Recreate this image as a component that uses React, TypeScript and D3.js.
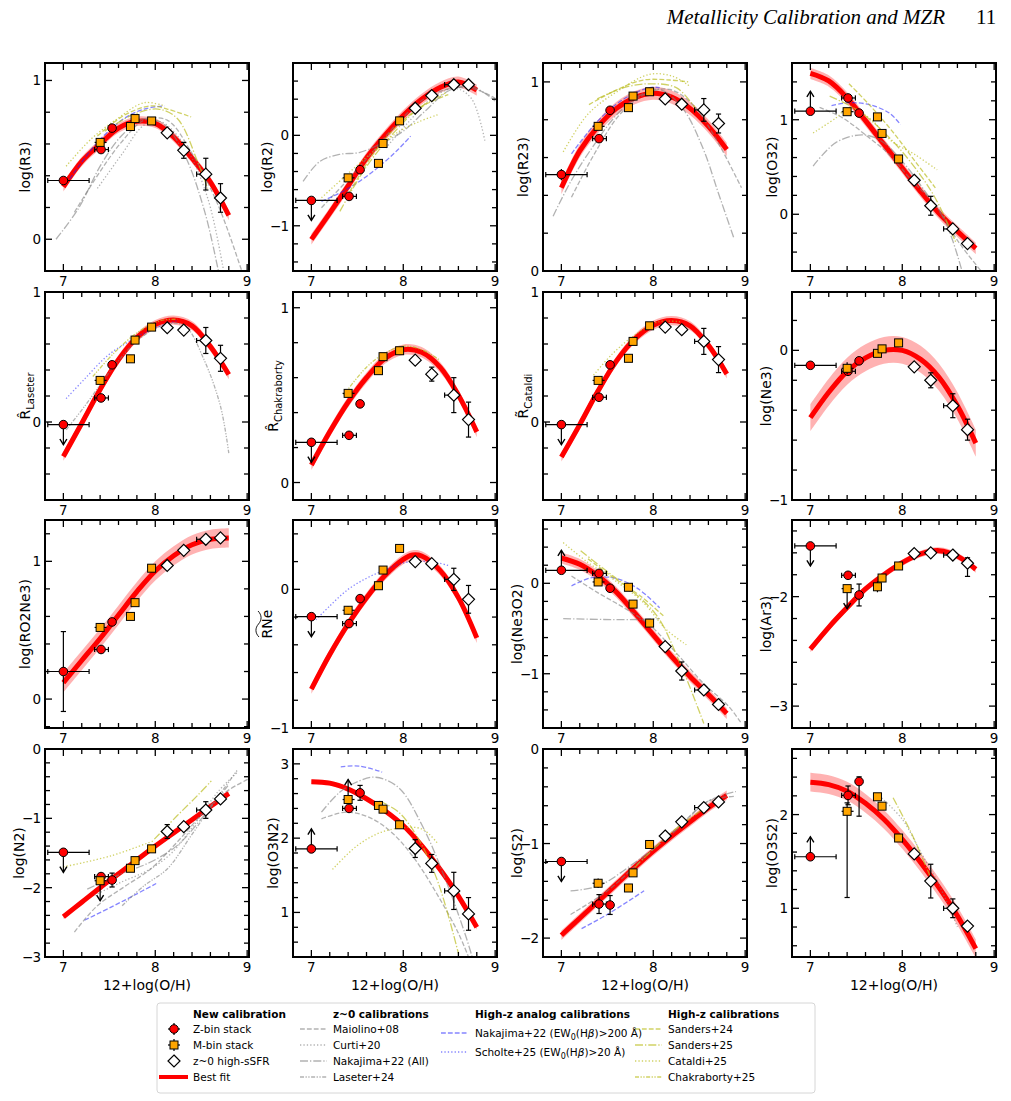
import * as d3 from 'd3';

// 12+log(O/H) of the stacks and their x-errors [minus, plus]
const OH_ZBIN = [7.0, 7.41, 7.53];
const OH_ZBIN_ERR = [[0.17, 0.28], [0.07, 0.08], [0.02, 0.02]];
const OH_MBIN = [7.40, 7.73, 7.78, 7.96];
const OH_MBIN_ERR = [[0.06, 0.07], [0.01, 0.01], [0.01, 0.01], [0.01, 0.01]];
const OH_LOCAL = [8.13, 8.31, 8.55, 8.71];
const OH_LOCAL_ERR = [[0.02, 0.02], [0.05, 0.03], [0.1, 0.04], [0.02, 0.02]];

const X_DOMAIN = [6.8, 9.02];
const X_TICKS = [7, 8, 9];

const Y_LABELS = [
  'log(R3)', 'log(R2)', 'log(R23)', 'log(O32)',
  ['R\u0302', 'Laseter'], ['R\u0302', 'Chakraborty'], ['R\u0303', 'Cataldi'], 'log(Ne3)',
  'log(RO2Ne3)', 'RNe', 'log(Ne3O2)', 'log(Ar3)',
  'log(N2)', 'log(O3N2)', 'log(S2)', 'log(O3S2)',
];
const Y_DOMAINS = [
  [-0.2, 1.11], [-1.5, 0.8], [0, 1.1], [-0.6, 1.6],
  [-0.6, 1.0], [-0.1, 1.09], [-0.6, 1.0], [-1.0, 0.39],
  [-0.21, 1.3], [-1.0, 0.5], [-1.6, 0.7], [-3.2, -1.3],
  [-3.0, 0.0], [0.4, 3.2], [-2.2, 0.0], [0.48, 2.7],
];
// limit flag on the lowest-metallicity Z-bin / M-bin points
const Z_LIMITS = ['', 'down', '', 'up', 'down', 'down', 'down', '', '', 'down', 'up', 'down', 'down', 'up', 'down', 'up'];
const M_LIMITS = ['', '', '', '', '', '', '', '', '', '', '', 'down', 'down', 'up', '', ''];
// half-width of the best-fit uncertainty band
const FIT_BAND = [0.03, 0.06, 0.035, 0.06, 0.035, 0.03, 0.035, 0.09, 0.07, 0.035, 0.06, 0.03, 0.03, 0.03, 0.05, 0.1];

// [y, yerr-, yerr+]
const R3_Z = [[0.37, 0.01, 0.01], [0.565, 0.02, 0.02], [0.70, 0.02, 0.02]];
const R3_M = [[0.61, 0.02, 0.02], [0.71, 0.01, 0.01], [0.76, 0.01, 0.01], [0.745, 0.01, 0.01]];
const R3_L = [[0.67, 0.02, 0.02], [0.56, 0.05, 0.05], [0.41, 0.1, 0.1], [0.26, 0.09, 0.09]];
const R3_FIT = [[7.0, 0.33], [7.2, 0.49], [7.4, 0.60], [7.6, 0.70], [7.8, 0.743], [8.0, 0.73], [8.2, 0.644], [8.4, 0.51], [8.6, 0.36], [8.8, 0.15]];
const R3_CAL = [
  ['nak22', [[6.92, 0.0], [7.16, 0.19], [7.41, 0.47], [7.63, 0.65], [7.88, 0.76], [8.1, 0.72], [8.32, 0.53], [8.53, 0.19], [8.68, -0.18], [8.72, -0.3]]],
  ['mai08', [[7.12, 0.17], [7.37, 0.4], [7.63, 0.61], [7.88, 0.75], [8.13, 0.75], [8.39, 0.55], [8.68, 0.22], [8.93, -0.18], [8.97, -0.25]]],
  ['cur20', [[7.37, 0.32], [7.63, 0.53], [7.88, 0.72], [8.06, 0.74], [8.32, 0.59], [8.57, 0.26], [8.75, -0.22]]],
  ['nak22ew', [[7.07, 0.38], [7.37, 0.61], [7.66, 0.76], [7.88, 0.82], [8.1, 0.84]]],
  ['cat25', [[7.03, 0.46], [7.3, 0.63], [7.59, 0.76], [7.88, 0.86], [8.1, 0.84]]],
  ['san24', [[7.37, 0.65], [7.66, 0.78], [7.95, 0.84], [8.13, 0.82], [8.39, 0.77]]],
  ['san25', [[7.45, 0.68], [7.74, 0.78], [8.03, 0.82], [8.24, 0.76], [8.46, 0.49], [8.57, 0.32]]],
];

const R2_Z = [[-0.72, 0.02, 0.02], [-0.675, 0.04, 0.04], [-0.38, 0.02, 0.02]];
const R2_M = [[-0.47, 0.03, 0.03], [-0.31, 0.01, 0.01], [-0.09, 0.01, 0.01], [0.16, 0.01, 0.01]];
const R2_L = [[0.30, 0.01, 0.01], [0.44, 0.02, 0.02], [0.56, 0.04, 0.04], [0.56, 0.02, 0.02]];
const R2_FIT = [[7.0, -1.15], [7.2, -0.86], [7.4, -0.56], [7.6, -0.25], [7.8, 0.0], [8.0, 0.22], [8.2, 0.40], [8.4, 0.53], [8.6, 0.59], [8.8, 0.50]];
const R2_CAL = [
  ['nak22', [[6.91, -0.51], [7.09, -0.29], [7.31, -0.21], [7.52, -0.19], [7.74, -0.10], [7.99, 0.04], [8.24, 0.27], [8.49, 0.49], [8.74, 0.54], [9.0, 0.38]]],
  ['mai08', [[7.11, -0.8], [7.38, -0.51], [7.67, -0.18], [7.95, 0.15], [8.24, 0.41], [8.53, 0.52], [8.78, 0.51], [9.0, 0.41]]],
  ['cur20', [[7.81, -0.14], [8.06, 0.15], [8.31, 0.41], [8.56, 0.52], [8.74, 0.41], [8.89, -0.07]]],
  ['nak22ew', [[7.11, -0.73], [7.38, -0.6], [7.67, -0.4], [7.92, -0.18], [8.08, -0.01]]],
  ['cat25', [[7.11, -0.69], [7.38, -0.44], [7.67, -0.18], [7.95, 0.04], [8.17, 0.15], [8.38, 0.23]]],
  ['san24', [[7.38, -0.69], [7.67, -0.21], [7.95, 0.12], [8.24, 0.34], [8.49, 0.45]]],
  ['san25', [[7.31, -0.84], [7.59, -0.36], [7.88, 0.01], [8.17, 0.3], [8.46, 0.47]]],
];

const R23_Z = [[0.51, 0.03, 0.03], [0.70, 0.02, 0.02], [0.85, 0.01, 0.01]];
const R23_M = [[0.765, 0.02, 0.02], [0.864, 0.01, 0.01], [0.925, 0.01, 0.01], [0.948, 0.01, 0.01]];
const R23_L = [[0.91, 0.01, 0.01], [0.882, 0.03, 0.03], [0.852, 0.06, 0.06], [0.78, 0.05, 0.05]];
const R23_FIT = [[7.0, 0.44], [7.2, 0.635], [7.4, 0.765], [7.6, 0.86], [7.8, 0.917], [8.0, 0.94], [8.2, 0.92], [8.4, 0.86], [8.6, 0.765], [8.8, 0.643]];
const R23_CAL = [
  ['nak22', [[6.91, 0.29], [7.11, 0.48], [7.36, 0.67], [7.61, 0.83], [7.86, 0.93], [8.07, 0.96], [8.32, 0.86], [8.54, 0.65], [8.71, 0.41], [8.88, 0.17]]],
  ['mai08', [[7.11, 0.39], [7.36, 0.62], [7.64, 0.83], [7.93, 0.94], [8.18, 0.96], [8.43, 0.88], [8.68, 0.70], [8.96, 0.44]]],
  ['nak22ew', [[7.11, 0.62], [7.39, 0.79], [7.68, 0.91], [7.96, 0.97], [8.07, 0.97]]],
  ['cat25', [[7.02, 0.63], [7.29, 0.83], [7.61, 0.95], [7.96, 1.04], [8.21, 1.03], [8.39, 0.98]]],
  ['san24', [[7.3, 0.88], [7.61, 0.96], [7.89, 1.01], [8.18, 1.01], [8.38, 1.0]]],
  ['san25', [[7.39, 0.91], [7.68, 0.97], [7.96, 0.99], [8.25, 0.97], [8.46, 0.86]]],
];

const O32_Z = [[1.09, 0.01, 0.01], [1.23, 0.03, 0.03], [1.07, 0.02, 0.02]];
const O32_M = [[1.085, 0.02, 0.02], [1.03, 0.01, 0.01], [0.855, 0.01, 0.01], [0.585, 0.01, 0.01]];
const O32_L = [[0.36, 0.02, 0.02], [0.09, 0.1, 0.1], [-0.155, 0.04, 0.04], [-0.31, 0.03, 0.03]];
const O32_FIT = [[7.0, 1.49], [7.2, 1.41], [7.4, 1.23], [7.6, 0.99], [7.8, 0.74], [8.0, 0.49], [8.2, 0.24], [8.4, 0.01], [8.6, -0.18], [8.8, -0.36]];
const O32_CAL = [
  ['nak22ew', [[7.23, 1.15], [7.42, 1.18], [7.64, 1.16], [7.86, 1.07], [7.98, 0.95]]],
  ['mai08', [[7.1, 1.13], [7.35, 1.02], [7.6, 0.84], [7.86, 0.63], [8.11, 0.35], [8.36, 0.1], [8.61, -0.29], [8.9, -0.65]]],
  ['nak22', [[7.03, 0.51], [7.28, 0.76], [7.57, 0.84], [7.78, 0.77], [8.0, 0.56], [8.25, 0.24], [8.47, -0.08], [8.65, -0.6]]],
  ['cat25', [[7.03, 0.86], [7.28, 1.02], [7.42, 1.13], [7.64, 1.02], [7.89, 0.77], [8.14, 0.63], [8.38, 0.47]]],
  ['san24', [[7.42, 1.38], [7.64, 1.16], [7.89, 0.88], [8.14, 0.56], [8.36, 0.28]]],
  ['san25', [[7.21, 1.25], [7.53, 1.09], [7.86, 0.81], [8.14, 0.49], [8.36, 0.17], [8.58, -0.29]]],
];

const LAS_Z = [[-0.02, 0.01, 0.01], [0.185, 0.02, 0.02], [0.44, 0.02, 0.02]];
const LAS_M = [[0.32, 0.02, 0.02], [0.486, 0.01, 0.01], [0.63, 0.01, 0.01], [0.73, 0.01, 0.01]];
const LAS_L = [[0.725, 0.01, 0.01], [0.707, 0.02, 0.02], [0.627, 0.1, 0.1], [0.49, 0.1, 0.1]];
const LAS_FIT = [[7.0, -0.265], [7.2, -0.01], [7.4, 0.25], [7.6, 0.48], [7.8, 0.65], [8.0, 0.75], [8.2, 0.784], [8.4, 0.74], [8.6, 0.58], [8.8, 0.365]];
const LAS_CAL = [
  ['sch25', [[7.03, 0.18], [7.23, 0.33], [7.48, 0.51], [7.74, 0.63], [7.99, 0.72], [8.24, 0.78]]],
  ['cha25', [[7.32, 0.35], [7.55, 0.53], [7.81, 0.69], [8.06, 0.78], [8.24, 0.79]]],
  ['las24', [[7.03, -0.06], [7.23, 0.12], [7.52, 0.4], [7.81, 0.63], [8.1, 0.75], [8.32, 0.74], [8.53, 0.48], [8.71, 0.12], [8.8, -0.24]]],
];

const CHA_Z = [[0.23, 0.01, 0.01], [0.27, 0.02, 0.02], [0.45, 0.02, 0.02]];
const CHA_M = [[0.51, 0.02, 0.02], [0.64, 0.01, 0.01], [0.72, 0.01, 0.01], [0.754, 0.01, 0.01]];
const CHA_L = [[0.70, 0.02, 0.02], [0.62, 0.04, 0.04], [0.50, 0.1, 0.1], [0.36, 0.1, 0.1]];
const CHA_FIT = [[7.0, 0.10], [7.2, 0.29], [7.4, 0.46], [7.6, 0.60], [7.8, 0.71], [8.0, 0.76], [8.2, 0.745], [8.4, 0.66], [8.6, 0.50], [8.8, 0.29]];
const CHA_CAL = [
  ['cha25', [[7.35, 0.5], [7.6, 0.66], [7.8, 0.74], [8.0, 0.78], [8.2, 0.76], [8.4, 0.70]]],
];

const CAT_Z = [[-0.02, 0.01, 0.01], [0.19, 0.02, 0.02], [0.44, 0.02, 0.02]];
const CAT_M = [[0.32, 0.02, 0.02], [0.49, 0.01, 0.01], [0.62, 0.01, 0.01], [0.74, 0.01, 0.01]];
const CAT_L = [[0.73, 0.01, 0.01], [0.71, 0.02, 0.02], [0.62, 0.1, 0.1], [0.48, 0.1, 0.1]];
const CAT_FIT = [[7.0, -0.27], [7.2, -0.02], [7.4, 0.24], [7.6, 0.47], [7.8, 0.64], [8.0, 0.745], [8.2, 0.78], [8.4, 0.74], [8.6, 0.59], [8.8, 0.37]];
const CAT_CAL = [
  ['cat25', [[7.35, 0.36], [7.55, 0.52], [7.8, 0.67], [8.05, 0.77], [8.3, 0.77]]],
];

const NE3_Z = [[-0.10, 0.01, 0.01], [-0.14, 0.03, 0.03], [-0.07, 0.02, 0.02]];
const NE3_M = [[-0.12, 0.04, 0.04], [-0.02, 0.01, 0.01], [0.01, 0.01, 0.01], [0.05, 0.01, 0.01]];
const NE3_L = [[-0.11, 0.02, 0.02], [-0.2, 0.05, 0.05], [-0.37, 0.08, 0.08], [-0.53, 0.07, 0.07]];
const NE3_FIT = [[7.0, -0.45], [7.2, -0.28], [7.4, -0.14], [7.6, -0.05], [7.8, 0.0], [8.0, 0.0], [8.2, -0.06], [8.4, -0.18], [8.6, -0.37], [8.8, -0.62]];

const RO2NE3_Z = [[0.2, 0.29, 0.29], [0.36, 0.03, 0.03], [0.56, 0.02, 0.02]];
const RO2NE3_M = [[0.52, 0.03, 0.03], [0.60, 0.01, 0.01], [0.70, 0.01, 0.01], [0.95, 0.01, 0.01]];
const RO2NE3_L = [[0.97, 0.01, 0.01], [1.08, 0.02, 0.02], [1.16, 0.04, 0.04], [1.17, 0.02, 0.02]];
const RO2NE3_FIT = [[7.0, 0.12], [7.2, 0.28], [7.4, 0.44], [7.6, 0.61], [7.8, 0.78], [8.0, 0.93], [8.2, 1.04], [8.4, 1.12], [8.6, 1.16], [8.8, 1.17]];

const RNE_Z = [[-0.197, 0.01, 0.01], [-0.247, 0.03, 0.03], [-0.067, 0.02, 0.02]];
const RNE_M = [[-0.151, 0.03, 0.03], [0.026, 0.01, 0.01], [0.139, 0.01, 0.01], [0.295, 0.01, 0.01]];
const RNE_L = [[0.2, 0.01, 0.01], [0.185, 0.03, 0.03], [0.072, 0.08, 0.08], [-0.072, 0.1, 0.1]];
const RNE_FIT = [[7.0, -0.72], [7.2, -0.47], [7.4, -0.25], [7.6, -0.06], [7.8, 0.10], [8.0, 0.216], [8.1, 0.247], [8.2, 0.24], [8.4, 0.137], [8.6, -0.06], [8.8, -0.35]];
const RNE_CAL = [
  ['sch25', [[7.05, -0.22], [7.2, -0.12], [7.4, 0.0], [7.6, 0.08], [7.8, 0.14], [8.0, 0.19], [8.3, 0.2], [8.5, 0.17]]],
];

const NE3O2_Z = [[0.144, 0.01, 0.01], [0.11, 0.03, 0.03], [-0.055, 0.02, 0.02]];
const NE3O2_M = [[0.015, 0.03, 0.03], [-0.044, 0.01, 0.01], [-0.23, 0.01, 0.01], [-0.44, 0.01, 0.01]];
const NE3O2_L = [[-0.70, 0.01, 0.01], [-0.97, 0.1, 0.1], [-1.18, 0.04, 0.04], [-1.34, 0.02, 0.02]];
const NE3O2_FIT = [[7.0, 0.28], [7.2, 0.21], [7.4, 0.08], [7.6, -0.10], [7.8, -0.33], [8.0, -0.57], [8.2, -0.81], [8.4, -1.03], [8.6, -1.23], [8.8, -1.44]];
const NE3O2_CAL = [
  ['nak22ew', [[7.11, -0.03], [7.32, 0.06], [7.57, 0.06], [7.82, -0.05], [8.07, -0.27]]],
  ['mai08', [[7.11, 0.08], [7.39, -0.1], [7.68, -0.27], [7.96, -0.46], [8.25, -0.77], [8.54, -1.1], [8.82, -1.36], [8.96, -1.55]]],
  ['nak22', [[7.02, -0.39], [7.46, -0.4], [7.82, -0.4], [8.07, -0.39]]],
  ['cat25', [[7.02, 0.45], [7.29, 0.23], [7.57, 0.04], [7.89, -0.21], [8.14, -0.51], [8.36, -0.68]]],
  ['san25', [[7.21, 0.36], [7.46, 0.16], [7.75, -0.07], [8.04, -0.36], [8.29, -0.88], [8.55, -1.55]]],
  ['san24', [[7.29, 0.27], [7.57, 0.06], [7.86, -0.14], [8.11, -0.36]]],
];

const AR3_Z = [[-1.537, 0.01, 0.01], [-1.805, 0.03, 0.03], [-1.985, 0.1, 0.1]];
const AR3_M = [[-1.927, 0.03, 0.03], [-1.91, 0.05, 0.05], [-1.83, 0.02, 0.02], [-1.72, 0.02, 0.02]];
const AR3_L = [[-1.607, 0.01, 0.01], [-1.60, 0.01, 0.01], [-1.62, 0.03, 0.03], [-1.695, 0.12, 0.05]];
const AR3_FIT = [[7.0, -2.48], [7.2, -2.28], [7.4, -2.10], [7.6, -1.93], [7.8, -1.80], [8.0, -1.69], [8.2, -1.61], [8.4, -1.58], [8.6, -1.63], [8.8, -1.75]];

const N2_Z = [[-1.49, 0.01, 0.01], [-1.84, 0.05, 0.05], [-1.89, 0.1, 0.1]];
const N2_M = [[-1.90, 0.05, 0.05], [-1.72, 0.02, 0.02], [-1.61, 0.02, 0.02], [-1.44, 0.02, 0.02]];
const N2_L = [[-1.19, 0.1, 0.1], [-1.12, 0.03, 0.03], [-0.88, 0.12, 0.12], [-0.72, 0.07, 0.07]];
const N2_FIT = [[7.0, -2.42], [7.2, -2.21], [7.4, -2.0], [7.6, -1.80], [7.8, -1.60], [8.0, -1.40], [8.2, -1.21], [8.4, -1.02], [8.6, -0.83], [8.8, -0.64]];
const N2_CAL = [
  ['cat25', [[7.0, -1.70], [7.52, -1.54], [7.99, -1.32]]],
  ['san25', [[7.99, -1.30], [8.24, -0.96], [8.46, -0.67], [8.61, -0.46]]],
  ['nak22ew', [[7.23, -2.47], [7.52, -2.28], [7.77, -2.11], [8.01, -1.94]]],
  ['mai08', [[7.12, -2.64], [7.37, -2.26], [7.66, -1.99], [7.95, -1.73], [8.24, -1.34], [8.53, -0.91], [8.79, -0.6], [9.02, -0.43]]],
  ['cur20', [[7.34, -2.11], [7.63, -1.92], [7.92, -1.75], [8.17, -1.51], [8.42, -1.1], [8.68, -0.62], [8.89, -0.34]]],
  ['nak22', [[7.26, -2.02], [7.63, -1.8], [7.95, -1.63], [8.24, -1.39], [8.53, -0.96], [8.79, -0.53]]],
  ['las24', [[7.64, -2.26], [7.88, -1.97], [8.13, -1.73], [8.39, -1.25], [8.64, -0.77], [8.89, -0.31]]],
];

const O3N2_Z = [[1.855, 0.01, 0.01], [2.40, 0.04, 0.04], [2.61, 0.1, 0.1]];
const O3N2_M = [[2.52, 0.04, 0.04], [2.44, 0.02, 0.02], [2.39, 0.02, 0.02], [2.18, 0.02, 0.02]];
const O3N2_L = [[1.86, 0.12, 0.12], [1.66, 0.12, 0.12], [1.29, 0.25, 0.25], [0.98, 0.22, 0.22]];
const O3N2_FIT = [[7.0, 2.76], [7.2, 2.74], [7.4, 2.66], [7.6, 2.53], [7.8, 2.37], [8.0, 2.17], [8.2, 1.90], [8.4, 1.58], [8.6, 1.22], [8.8, 0.80]];
const O3N2_CAL = [
  ['nak22ew', [[7.32, 2.96], [7.52, 2.97], [7.77, 2.89]]],
  ['nak22', [[7.11, 2.35], [7.31, 2.62], [7.52, 2.77], [7.7, 2.82], [7.95, 2.68], [8.21, 2.16], [8.46, 1.44], [8.67, 0.72], [8.75, 0.4]]],
  ['mai08', [[7.11, 2.26], [7.38, 2.35], [7.63, 2.28], [7.88, 2.07], [8.13, 1.71], [8.38, 1.22], [8.6, 0.72], [8.71, 0.4]]],
  ['cat25', [[7.23, 1.58], [7.49, 1.89], [7.74, 2.07], [7.99, 2.14], [8.21, 2.12], [8.38, 1.92]]],
  ['san25', [[7.74, 2.5], [7.95, 2.35], [8.17, 1.98], [8.38, 1.40], [8.6, 0.45]]],
];

const S2_Z = [[-1.19, 0.01, 0.01], [-1.64, 0.1, 0.1], [-1.65, 0.1, 0.1]];
const S2_M = [[-1.42, 0.05, 0.05], [-1.47, 0.03, 0.03], [-1.31, 0.02, 0.02], [-1.01, 0.02, 0.02]];
const S2_L = [[-0.92, 0.03, 0.03], [-0.77, 0.05, 0.05], [-0.62, 0.05, 0.05], [-0.56, 0.03, 0.03]];
const S2_FIT = [[7.0, -1.97], [7.2, -1.79], [7.4, -1.61], [7.6, -1.43], [7.8, -1.25], [8.0, -1.08], [8.2, -0.92], [8.4, -0.77], [8.6, -0.62], [8.8, -0.49]];
const S2_CAL = [
  ['nak22ew', [[7.22, -1.9], [7.5, -1.75], [7.9, -1.5]]],
  ['mai08', [[7.1, -1.75], [7.5, -1.5], [7.9, -1.15], [8.3, -0.8], [8.6, -0.55], [8.9, -0.5]]],
  ['nak22', [[7.1, -1.5], [7.4, -1.45], [7.8, -1.2], [8.2, -0.9], [8.6, -0.55], [8.9, -0.45]]],
  ['san25', [[7.8, -1.25], [8.2, -0.88], [8.6, -0.6]]],
];

const O3S2_Z = [[1.55, 0.01, 0.01], [2.205, 0.1, 0.1], [2.353, 0.37, 0.05]];
const O3S2_M = [[2.035, 0.92, 0.09], [2.19, 0.01, 0.01], [2.09, 0.01, 0.01], [1.75, 0.01, 0.01]];
const O3S2_L = [[1.58, 0.06, 0.06], [1.29, 0.18, 0.18], [1.0, 0.1, 0.1], [0.81, 0.05, 0.05]];
const O3S2_FIT = [[7.0, 2.346], [7.2, 2.32], [7.4, 2.25], [7.6, 2.12], [7.8, 1.95], [8.0, 1.735], [8.2, 1.49], [8.4, 1.22], [8.6, 0.92], [8.8, 0.57]];
const O3S2_CAL = [
  ['cur20', [[7.75, 2.2], [8.0, 1.95], [8.2, 1.6], [8.4, 1.25], [8.6, 0.8]]],
  ['san25', [[7.9, 2.18], [8.1, 1.8], [8.3, 1.35]]],
];

const PANELS = [
  [R3_Z, R3_M, R3_L, R3_FIT, R3_CAL],
  [R2_Z, R2_M, R2_L, R2_FIT, R2_CAL],
  [R23_Z, R23_M, R23_L, R23_FIT, R23_CAL],
  [O32_Z, O32_M, O32_L, O32_FIT, O32_CAL],
  [LAS_Z, LAS_M, LAS_L, LAS_FIT, LAS_CAL],
  [CHA_Z, CHA_M, CHA_L, CHA_FIT, CHA_CAL],
  [CAT_Z, CAT_M, CAT_L, CAT_FIT, CAT_CAL],
  [NE3_Z, NE3_M, NE3_L, NE3_FIT, []],
  [RO2NE3_Z, RO2NE3_M, RO2NE3_L, RO2NE3_FIT, []],
  [RNE_Z, RNE_M, RNE_L, RNE_FIT, RNE_CAL],
  [NE3O2_Z, NE3O2_M, NE3O2_L, NE3O2_FIT, NE3O2_CAL],
  [AR3_Z, AR3_M, AR3_L, AR3_FIT, []],
  [N2_Z, N2_M, N2_L, N2_FIT, N2_CAL],
  [O3N2_Z, O3N2_M, O3N2_L, O3N2_FIT, O3N2_CAL],
  [S2_Z, S2_M, S2_L, S2_FIT, S2_CAL],
  [O3S2_Z, O3S2_M, O3S2_L, O3S2_FIT, O3S2_CAL],
];

const GREY = '#7f7f7f', BLUE = '#2020ff', OLIVE = '#bcbd22';
const CAL_STYLE = {
  mai08: { color: GREY, dash: '4.8,2.1', op: 0.6, label: 'Maiolino+08' },
  cur20: { color: GREY, dash: '1.3,2.1', op: 0.6, label: 'Curti+20' },
  nak22: { color: GREY, dash: '8,2,1.3,2', op: 0.6, label: 'Nakajima+22 (All)' },
  las24: { color: GREY, dash: '4,1.5,1.3,1.5,1.3,1.5', op: 0.6, label: 'Laseter+24' },
  nak22ew: { color: BLUE, dash: '4.8,2.1', op: 0.55 },
  sch25: { color: BLUE, dash: '1.3,2.1', op: 0.55 },
  san24: { color: OLIVE, dash: '4.8,2.1', op: 0.7, label: 'Sanders+24' },
  san25: { color: OLIVE, dash: '8,2,1.3,2', op: 0.7, label: 'Sanders+25' },
  cat25: { color: OLIVE, dash: '1.3,2.1', op: 0.7, label: 'Cataldi+25' },
  cha25: { color: OLIVE, dash: '4,1.5,1.3,1.5,1.3,1.5', op: 0.7, label: 'Chakraborty+25' },
};

const W = 204, H = 208;
const COL_LEFT = [45, 293, 543, 792];
const ROW_TOP = [63, 292, 520, 749];
const FONT = 'DejaVu Sans, sans-serif';

function tickSteps(d0, d1) {
  const out = [];
  for (let k = Math.ceil(d0 * 5 - 1e-6); k <= Math.floor(d1 * 5 + 1e-6); k++) out.push(k);
  return out;
}

// tick text with a slightly tightened unicode minus
function TickText({ v, x, y }) {
  if (v < 0) {
    return <text x={x} y={y} textAnchor="end">{'\u2212'}<tspan dx={-1}>{Math.abs(v)}</tspan></text>;
  }
  return <text x={x} y={y} textAnchor="end">{v}</text>;
}

function ErrPoint({ px, py, x0, x1, y0, y1, lim, shape }) {
  const cap = 2.6;
  const arrow = lim ? (lim === 'down' ? 20 : -20) : 0;
  return (
    <g>
      <g stroke="#000" strokeWidth={1.2} fill="none">
        <line x1={x0} x2={x1} y1={py} y2={py} />
        <line x1={px} x2={px} y1={y0} y2={y1} />
        {x1 - x0 > 12 && <line x1={x0} x2={x0} y1={py - cap} y2={py + cap} />}
        {x1 - x0 > 12 && <line x1={x1} x2={x1} y1={py - cap} y2={py + cap} />}
        {y0 - y1 > 12 && <line x1={px - cap} x2={px + cap} y1={y0} y2={y0} />}
        {y0 - y1 > 12 && <line x1={px - cap} x2={px + cap} y1={y1} y2={y1} />}
        {lim && <line x1={px} x2={px} y1={py} y2={py + arrow} />}
        {lim && <path d={`M${px - 3.5},${py + arrow * 0.72} L${px},${py + arrow} L${px + 3.5},${py + arrow * 0.72}`} strokeWidth={1.4} />}
      </g>
      {shape === 'circle' && <circle cx={px} cy={py} r={4.3} fill="#ff0000" stroke="#000" strokeWidth={1} />}
      {shape === 'square' && <rect x={px - 4} y={py - 4} width={8} height={8} fill="#ffa500" stroke="#000" strokeWidth={1} />}
      {shape === 'diamond' && <path d={`M${px},${py - 6} L${px + 6},${py} L${px},${py + 6} L${px - 6},${py} Z`} fill="#fff" stroke="#000" strokeWidth={1.2} />}
    </g>
  );
}

function YLabel({ idx, cx, cy }) {
  const lab = Y_LABELS[idx];
  const tr = `translate(${cx},${cy}) rotate(-90)`;
  if (Array.isArray(lab)) {
    return (
      <text transform={tr} textAnchor="middle" fontSize={14} fontFamily={FONT}>
        {lab[0]}<tspan dy={4} fontSize={10}>{lab[1]}</tspan>
      </text>
    );
  }
  if (lab === 'RNe') {
    return (
      <g transform={tr}>
        <text textAnchor="middle" fontSize={14} fontFamily={FONT}>RNe</text>
        <path d="M-13,-13 C-9,-17 -4,-17 0,-13.5 S9,-10 13,-14" fill="none" stroke="#000" strokeWidth={0.9} />
      </g>
    );
  }
  return <text transform={tr} textAnchor="middle" fontSize={14} fontFamily={FONT}>{lab}</text>;
}

function Panel({ idx }) {
  const col = idx % 4, row = Math.floor(idx / 4);
  const left = COL_LEFT[col], top = ROW_TOP[row];
  const [zData, mData, lData, fit, cals] = PANELS[idx];
  const yd = Y_DOMAINS[idx];
  const x = d3.scaleLinear().domain(X_DOMAIN).range([left, left + W]);
  const y = d3.scaleLinear().domain(yd).range([top + H, top]);
  const band = FIT_BAND[idx];
  const curve = d3.curveCatmullRom.alpha(0.5);
  const line = d3.line().x(d => x(d[0])).y(d => y(d[1])).curve(curve);
  const area = d3.area().x(d => x(d[0])).y0(d => y(d[1] - band)).y1(d => y(d[1] + band)).curve(curve);
  const clip = `clip-${idx}`;

  const yk = tickSteps(yd[0], yd[1]);
  const xk = tickSteps(X_DOMAIN[0] + 0.01, X_DOMAIN[1]);
  const hasMinus = yk.some(k => k % 5 === 0 && k < 0);

  const groups = [
    { oh: OH_ZBIN, err: OH_ZBIN_ERR, vals: zData, shape: 'circle', lim: Z_LIMITS[idx] },
    { oh: OH_MBIN, err: OH_MBIN_ERR, vals: mData, shape: 'square', lim: M_LIMITS[idx] },
    { oh: OH_LOCAL, err: OH_LOCAL_ERR, vals: lData, shape: 'diamond', lim: '' },
  ];

  return (
    <g>
      <clipPath id={clip}><rect x={left} y={top} width={W} height={H} /></clipPath>
      <g clipPath={`url(#${clip})`}>
        <path d={area(fit)} fill="#ff0000" fillOpacity={0.3} />
        <path d={line(fit)} fill="none" stroke="#ff0000" strokeWidth={5} />
        {cals.map(([ref, pts], i) => {
          const s = CAL_STYLE[ref];
          return <path key={i} d={line(pts)} fill="none" stroke={s.color} strokeOpacity={s.op} strokeWidth={1.3} strokeDasharray={s.dash} />;
        })}
      </g>
      {groups.map((g, gi) => g.vals.map((v, i) => (
        <ErrPoint key={`${gi}-${i}`} shape={g.shape}
          px={x(g.oh[i])} py={y(v[0])}
          x0={x(g.oh[i] - g.err[i][0])} x1={x(g.oh[i] + g.err[i][1])}
          y0={y(v[0] - v[1])} y1={y(v[0] + v[2])}
          lim={i === 0 ? g.lim : ''} />
      )))}
      <g stroke="#000" strokeWidth={1.3}>
        {yk.map(k => {
          const len = k % 5 === 0 ? 7 : 5;
          const yy = y(k / 5);
          return (
            <g key={`y${k}`}>
              <line x1={left} x2={left + len} y1={yy} y2={yy} />
              <line x1={left + W} x2={left + W - len} y1={yy} y2={yy} />
            </g>
          );
        })}
        {xk.map(k => {
          const len = k % 5 === 0 ? 7 : 5;
          const xx = x(k / 5);
          return (
            <g key={`x${k}`}>
              <line x1={xx} x2={xx} y1={top + H} y2={top + H - len} />
              <line x1={xx} x2={xx} y1={top} y2={top + len} />
            </g>
          );
        })}
      </g>
      <rect x={left} y={top} width={W} height={H} fill="none" stroke="#000" strokeWidth={2} />
      <g fontFamily={FONT} fontSize={13.5} fill="#000">
        {yk.filter(k => k % 5 === 0).map(k => (
          <TickText key={`yl${k}`} v={k / 5} x={left - 4} y={y(k / 5) + 5} />
        ))}
        {X_TICKS.map(t => (
          <text key={`xl${t}`} x={x(t)} y={top + H + 15} textAnchor="middle">{t}</text>
        ))}
        {row === 3 && <text x={left + W / 2} y={top + H + 33} textAnchor="middle" fontSize={14}>12+log(O/H)</text>}
      </g>
      <YLabel idx={idx} cx={left - (hasMinus ? 21 : 15)} cy={top + H / 2} />
    </g>
  );
}

function LegendLine({ refKey, x0, yy }) {
  const s = CAL_STYLE[refKey];
  return <line x1={x0} x2={x0 + 27} y1={yy} y2={yy} stroke={s.color} strokeOpacity={s.op} strokeWidth={1.3} strokeDasharray={s.dash} />;
}

function Legend() {
  const rows = [1029, 1045, 1061, 1077];
  const fs = 10.5;
  const ew = (
    <>EW<tspan dy={3} fontSize={8}>0</tspan><tspan dy={-3}>(H</tspan><tspan fontStyle="italic">β</tspan>)</>
  );
  return (
    <g fontFamily={FONT} fontSize={fs}>
      <rect x={157} y={1003} width={658} height={90} rx={3} fill="#fff" stroke="#d6d6d6" strokeWidth={1} />
      <text x={193} y={1018} fontWeight="bold">New calibration</text>
      <text x={333} y={1018} fontWeight="bold">z~0 calibrations</text>
      <text x={475} y={1018} fontWeight="bold">High-z analog calibrations</text>
      <text x={668} y={1018} fontWeight="bold">High-z calibrations</text>

      <ErrPoint px={174} py={rows[0]} x0={168} x1={180} y0={rows[0] + 6} y1={rows[0] - 6} lim="" shape="circle" />
      <ErrPoint px={174} py={rows[1]} x0={168} x1={180} y0={rows[1] + 6} y1={rows[1] - 6} lim="" shape="square" />
      <ErrPoint px={174} py={rows[2]} x0={174} x1={174} y0={rows[2]} y1={rows[2]} lim="" shape="diamond" />
      <line x1={159} x2={188} y1={rows[3]} y2={rows[3]} stroke="#ff0000" strokeWidth={4} />
      {['Z-bin stack', 'M-bin stack', 'z~0 high-sSFR', 'Best fit'].map((t, i) => (
        <text key={t} x={193} y={rows[i] + 4}>{t}</text>
      ))}

      {['mai08', 'cur20', 'nak22', 'las24'].map((r, i) => (
        <g key={r}>
          <LegendLine refKey={r} x0={300} yy={rows[i]} />
          <text x={333} y={rows[i] + 4}>{CAL_STYLE[r].label}</text>
        </g>
      ))}

      <LegendLine refKey="nak22ew" x0={441} yy={1033} />
      <text x={475} y={1037}>Nakajima+22 ({ew}{'>200 Å)'}</text>
      <LegendLine refKey="sch25" x0={441} yy={1052} />
      <text x={475} y={1056}>Scholte+25 ({ew}{'>20 Å)'}</text>

      {['san24', 'san25', 'cat25', 'cha25'].map((r, i) => (
        <g key={r}>
          <LegendLine refKey={r} x0={635} yy={rows[i]} />
          <text x={668} y={rows[i] + 4}>{CAL_STYLE[r].label}</text>
        </g>
      ))}
    </g>
  );
}

export default function App() {
  return (
    <svg width={1011} height={1101} viewBox="0 0 1011 1101"
      style={{ position: 'absolute', left: 0, top: 0, background: '#fff' }}>
      <rect width={1011} height={1101} fill="#fff" />
      <text x={945} y={24} textAnchor="end" fontFamily="Liberation Serif, serif" fontStyle="italic" fontSize={21}>
        Metallicity Calibration and MZR
      </text>
      <text x={976} y={24} fontFamily="Liberation Serif, serif" fontSize={21}>11</text>
      {PANELS.map((_, i) => <Panel key={i} idx={i} />)}
      <Legend />
    </svg>
  );
}
